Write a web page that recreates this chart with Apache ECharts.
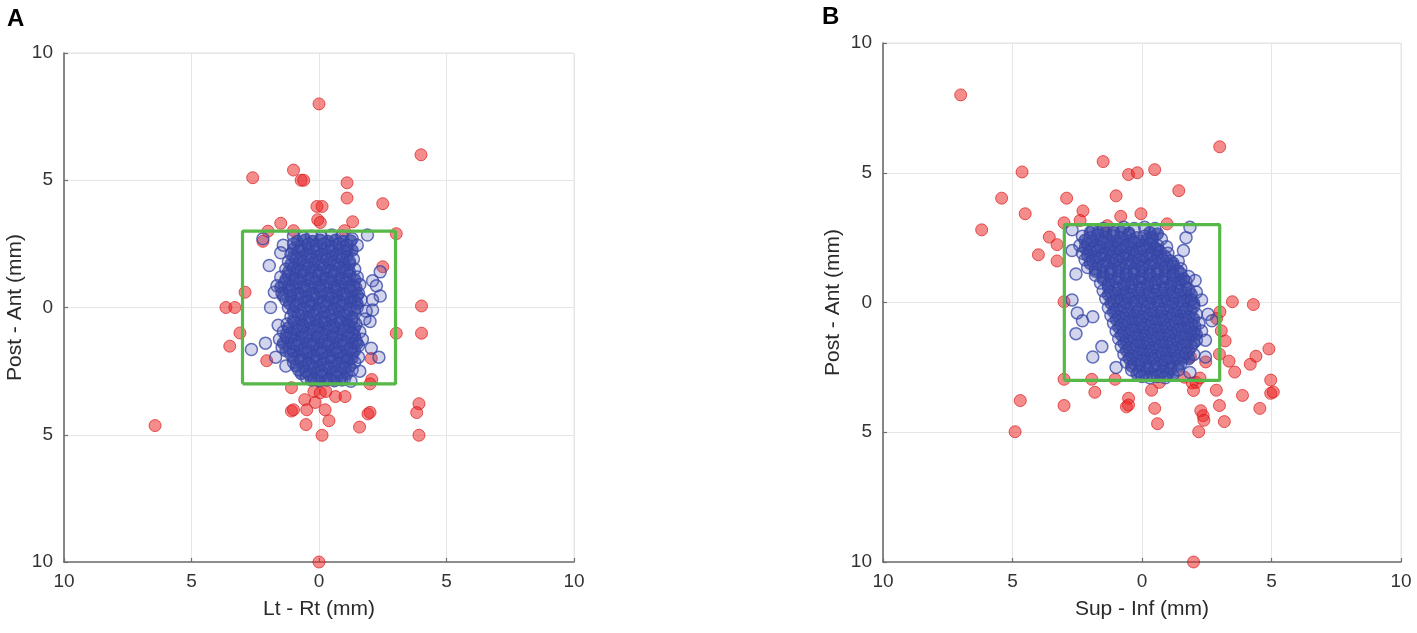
<!DOCTYPE html>
<html>
<head>
<meta charset="utf-8">
<title>Setup error scatter</title>
<script src="https://cdn.jsdelivr.net/npm/echarts@6/dist/echarts.min.js"></script>
<style>
  html, body { margin: 0; padding: 0; background: #fff; }
  #chart { width: 1417px; height: 633px; }
</style>
</head>
<body>
<div id="chart"></div>
<script>
// panel titles / axis names
const panelLetters = ['A', 'B'];
const xNames = ['Lt - Rt (mm)', 'Sup - Inf (mm)'];
const yName = 'Post - Ant (mm)';

// 3 mm tolerance box
const boxCorners = [[-3, -3], [-3, 3], [3, 3], [3, -3], [-3, -3]];

// panel A, points outside the box
const redA = [
  [0, 8], [4.0, 6.0], [-2.6, 5.1], [-1.0, 5.4], [-0.7, 5.0], [-0.6, 5.0], [1.1, 4.9], [1.1, 4.3],
  [2.5, 4.08], [-0.08, 3.97], [0.12, 3.97], [-0.05, 3.45], [0.05, 3.34], [1.32, 3.37], [-1.5, 3.31],
  [-2.0, 3.0], [-1.0, 3.02], [1.0, 3.02], [3.03, 2.9], [-2.2, 2.6], [2.5, 1.6], [-2.9, 0.6],
  [-3.65, 0.0], [-3.3, 0.0], [4.02, 0.06], [-3.1, -1.0], [3.03, -1.01], [4.02, -1.01], [-3.5, -1.52],
  [-2.05, -2.09], [2.05, -2.0], [2.07, -2.83], [2.0, -3.0], [-1.08, -3.15], [-0.2, -3.3], [0.05, -3.35],
  [0.27, -3.3], [0.65, -3.5], [1.02, -3.5], [-0.56, -3.62], [-0.15, -3.73], [-1.08, -4.07], [-1.0, -4.02],
  [-0.48, -4.02], [0.24, -4.02], [1.92, -4.18], [2.0, -4.12], [3.92, -3.78], [3.83, -4.13], [-6.43, -4.64],
  [-0.51, -4.6], [0.39, -4.45], [1.59, -4.7], [0.12, -5.02], [3.92, -5.02], [0, -10]
];

// panel A, points inside the box (scattered rim)
const blueA = [
  [-2.2, 2.7], [-1.0, 2.8], [-0.6, 2.75], [-0.3, 2.8], [0.1, 2.75], [0.5, 2.85], [0.9, 2.8], [1.3, 2.7], [1.9, 2.85],
  [-1.4, 2.45], [-1.0, 2.5], [-0.7, 2.4], [-0.4, 2.5], [-0.1, 2.45], [0.2, 2.5], [0.5, 2.4], [0.8, 2.5], [1.1, 2.45], [1.5, 2.45],
  [-1.5, 2.15], [-1.1, 2.1], [-0.8, 2.2], [-0.5, 2.1], [-0.2, 2.2], [0.1, 2.1], [0.4, 2.2], [0.7, 2.1], [1.0, 2.2], [1.35, 1.9],
  [-1.95, 1.65], [-1.2, 1.8], [-0.9, 1.9], [-0.6, 1.8], [-0.3, 1.9], [0.0, 1.8], [0.3, 1.9], [0.6, 1.8], [0.9, 1.9], [1.2, 1.8],
  [-1.3, 1.5], [-1.0, 1.55], [-0.7, 1.45], [-0.4, 1.55], [-0.1, 1.45], [0.2, 1.55], [0.5, 1.45], [0.8, 1.55], [1.1, 1.45], [1.4, 1.5], [2.4, 1.4],
  [-1.5, 1.2], [-1.2, 1.25], [-0.9, 1.15], [-0.6, 1.25], [-0.3, 1.15], [0.0, 1.25], [0.3, 1.15], [0.6, 1.25], [0.9, 1.15], [1.2, 1.25], [1.5, 1.2], [2.1, 1.05],
  [-1.65, 0.85], [-1.35, 0.95], [-1.05, 0.85], [-0.75, 0.95], [-0.45, 0.85], [-0.15, 0.95], [0.15, 0.85], [0.45, 0.95], [0.75, 0.85], [1.05, 0.95], [1.35, 0.85], [1.6, 0.9], [2.25, 0.85],
  [-1.75, 0.6], [-1.45, 0.55], [-1.15, 0.65], [-0.85, 0.55], [-0.55, 0.65], [-0.25, 0.55], [0.05, 0.65], [0.35, 0.55], [0.65, 0.65], [0.95, 0.55], [1.25, 0.65], [1.55, 0.55], [2.4, 0.45],
  [-1.3, 0.3], [-1.0, 0.25], [-0.7, 0.35], [-0.4, 0.25], [-0.1, 0.35], [0.2, 0.25], [0.5, 0.35], [0.8, 0.25], [1.1, 0.35], [1.4, 0.25], [1.65, 0.3], [2.1, 0.3],
  [-1.9, 0.0], [-1.2, 0.0], [-0.9, 0.05], [-0.6, -0.05], [-0.3, 0.05], [0.0, -0.05], [0.3, 0.05], [0.6, -0.05], [0.9, 0.05], [1.2, -0.05], [1.5, 0.0], [2.1, -0.1], [1.85, -0.15],
  [-1.1, -0.35], [-0.8, -0.3], [-0.5, -0.4], [-0.2, -0.3], [0.1, -0.4], [0.4, -0.3], [0.7, -0.4], [1.0, -0.3], [1.3, -0.4], [1.8, -0.45],
  [-1.6, -0.7], [-1.25, -0.65], [-0.95, -0.6], [-0.65, -0.7], [-0.35, -0.6], [-0.05, -0.7], [0.25, -0.6], [0.55, -0.7], [0.85, -0.6], [1.15, -0.7], [1.45, -0.65], [2.0, -0.55],
  [-1.4, -0.95], [-1.1, -1.0], [-0.8, -0.9], [-0.5, -1.0], [-0.2, -0.9], [0.1, -1.0], [0.4, -0.9], [0.7, -1.0], [1.0, -0.9], [1.3, -1.0], [1.6, -0.95],
  [-1.55, -1.25], [-1.25, -1.2], [-0.95, -1.3], [-0.65, -1.2], [-0.35, -1.3], [-0.05, -1.2], [0.25, -1.3], [0.55, -1.2], [0.85, -1.3], [1.15, -1.2], [1.45, -1.3], [1.7, -1.25],
  [-2.1, -1.4], [-2.65, -1.65], [-1.45, -1.55], [-1.15, -1.6], [-0.85, -1.5], [-0.55, -1.6], [-0.25, -1.5], [0.05, -1.6], [0.35, -1.5], [0.65, -1.6], [0.95, -1.5], [1.25, -1.6], [1.55, -1.5], [2.05, -1.6],
  [-1.7, -1.95], [-1.1, -1.85], [-0.8, -1.9], [-0.5, -1.8], [-0.2, -1.9], [0.1, -1.8], [0.4, -1.9], [0.7, -1.8], [1.0, -1.9], [1.3, -1.8], [1.55, -1.95], [2.35, -1.95],
  [-1.3, -2.3], [-1.0, -2.15], [-0.7, -2.1], [-0.4, -2.2], [-0.1, -2.1], [0.2, -2.2], [0.5, -2.1], [0.8, -2.2], [1.1, -2.1], [1.4, -2.15],
  [-0.8, -2.45], [-0.5, -2.5], [-0.2, -2.4], [0.1, -2.5], [0.4, -2.4], [0.7, -2.5], [1.0, -2.4], [1.3, -2.45], [1.6, -2.5],
  [-0.5, -2.75], [-0.2, -2.8], [0.1, -2.7], [0.4, -2.8], [0.7, -2.75], [1.0, -2.8], [1.25, -2.9]
];

// panel A, dense core (heavily overlapping points)
const blueCoreA = [
  [-0.85, 2.6], [-0.55, 2.65], [-0.25, 2.6], [0.05, 2.65], [0.35, 2.6], [0.65, 2.65], [0.95, 2.6], [1.25, 2.62],
  [-1.0, 2.3], [-0.7, 2.28], [-0.4, 2.32], [-0.1, 2.3], [0.2, 2.28], [0.5, 2.32], [0.8, 2.3], [1.1, 2.3], [1.3, 2.25],
  [-1.0, 2.0], [-0.7, 1.98], [-0.4, 2.02], [-0.1, 2.0], [0.2, 1.98], [0.5, 2.02], [0.8, 2.0], [1.1, 2.0],
  [-1.1, 1.7], [-0.8, 1.68], [-0.5, 1.72], [-0.2, 1.7], [0.1, 1.68], [0.4, 1.72], [0.7, 1.7], [1.0, 1.68], [1.2, 1.72],
  [-1.2, 1.4], [-0.9, 1.38], [-0.6, 1.42], [-0.3, 1.4], [0.0, 1.38], [0.3, 1.42], [0.6, 1.4], [0.9, 1.38], [1.2, 1.4],
  [-1.3, 1.1], [-1.0, 1.08], [-0.7, 1.12], [-0.4, 1.1], [-0.1, 1.08], [0.2, 1.12], [0.5, 1.1], [0.8, 1.08], [1.1, 1.12], [1.4, 1.1],
  [-1.5, 0.8], [-1.2, 0.78], [-0.9, 0.82], [-0.6, 0.8], [-0.3, 0.78], [0.0, 0.82], [0.3, 0.8], [0.6, 0.78], [0.9, 0.82], [1.2, 0.8], [1.45, 0.78],
  [-1.4, 0.45], [-1.1, 0.48], [-0.8, 0.52], [-0.5, 0.45], [-0.2, 0.48], [0.1, 0.52], [0.4, 0.45], [0.7, 0.48], [1.0, 0.52], [1.3, 0.45], [1.5, 0.48],
  [-1.15, 0.15], [-0.85, 0.18], [-0.55, 0.22], [-0.25, 0.15], [0.05, 0.18], [0.35, 0.22], [0.65, 0.15], [0.95, 0.18], [1.25, 0.22], [1.5, 0.15],
  [-1.0, -0.15], [-0.7, -0.18], [-0.4, -0.12], [-0.1, -0.15], [0.2, -0.18], [0.5, -0.12], [0.8, -0.15], [1.1, -0.18], [1.4, -0.12],
  [-1.0, -0.5], [-0.7, -0.52], [-0.4, -0.48], [-0.1, -0.5], [0.2, -0.52], [0.5, -0.48], [0.8, -0.5], [1.1, -0.52], [1.3, -0.48],
  [-1.2, -0.8], [-0.9, -0.82], [-0.6, -0.78], [-0.3, -0.8], [0.0, -0.82], [0.3, -0.78], [0.6, -0.8], [0.9, -0.82], [1.2, -0.78], [1.4, -0.8],
  [-1.3, -1.1], [-1.0, -1.12], [-0.7, -1.08], [-0.4, -1.1], [-0.1, -1.12], [0.2, -1.08], [0.5, -1.1], [0.8, -1.12], [1.1, -1.08], [1.4, -1.1],
  [-1.4, -1.4], [-1.1, -1.42], [-0.8, -1.38], [-0.5, -1.4], [-0.2, -1.42], [0.1, -1.38], [0.4, -1.4], [0.7, -1.42], [1.0, -1.38], [1.3, -1.4], [1.5, -1.42],
  [-1.3, -1.7], [-1.0, -1.72], [-0.7, -1.68], [-0.4, -1.7], [-0.1, -1.72], [0.2, -1.68], [0.5, -1.7], [0.8, -1.72], [1.1, -1.68], [1.4, -1.7],
  [-1.0, -2.0], [-0.7, -2.02], [-0.4, -1.98], [-0.1, -2.0], [0.2, -2.02], [0.5, -1.98], [0.8, -2.0], [1.1, -2.02], [1.3, -1.98],
  [-0.9, -2.3], [-0.6, -2.32], [-0.3, -2.28], [0.0, -2.3], [0.3, -2.32], [0.6, -2.28], [0.9, -2.3], [1.2, -2.32],
  [-0.7, -2.6], [-0.4, -2.62], [-0.1, -2.58], [0.2, -2.6], [0.5, -2.62], [0.8, -2.58], [1.1, -2.6],
  [-0.3, -2.85], [0.0, -2.88], [0.3, -2.85], [0.6, -2.88], [0.9, -2.85]
];

// panel B, points outside the box
const redB = [
  [-7.0, 8.0], [3.0, 6.0], [-1.5, 5.43], [-4.63, 5.03], [-0.52, 4.93], [-0.18, 5.0], [0.49, 5.12],
  [-5.42, 4.02], [-2.91, 4.02], [-1.0, 4.11], [1.42, 4.31], [-4.51, 3.42], [-2.28, 3.53], [-0.82, 3.32],
  [-0.04, 3.42], [-6.19, 2.8], [-3.01, 3.07], [-2.39, 3.16], [-1.34, 2.96], [0.97, 3.03], [-3.58, 2.52],
  [-3.28, 2.23], [-4.0, 1.84], [-3.28, 1.6], [-3.01, 0.03], [3.49, 0.03], [4.3, -0.08], [3.01, -0.36],
  [2.88, -0.62], [3.06, -1.09], [3.21, -1.48], [2.99, -1.99], [2.46, -2.29], [3.36, -2.26], [3.58, -2.68],
  [4.18, -2.38], [4.4, -2.07], [4.9, -1.79], [1.87, -2.1], [1.64, -2.88], [1.94, -3.1], [2.09, -3.08],
  [2.24, -2.91], [0.67, -3.08], [0.37, -3.38], [-1.04, -2.96], [-1.94, -2.96], [-3.01, -2.96], [-1.82, -3.46],
  [1.99, -3.39], [2.87, -3.38], [3.88, -3.58], [4.97, -2.99], [4.97, -3.5], [5.07, -3.45], [-0.52, -3.69],
  [-0.6, -4.02], [-0.52, -3.95], [-4.7, -3.78], [-3.01, -3.97], [0.49, -4.08], [2.99, -3.97], [4.55, -4.08],
  [2.27, -4.17], [2.36, -4.36], [2.39, -4.54], [3.18, -4.59], [0.6, -4.67], [-4.9, -4.98], [2.19, -4.98], [1.99, -10]
];

// panel B, points inside the box (scattered rim)
const blueB = [
  [-2.7, 2.8], [-1.9, 2.8], [-1.5, 2.85], [-0.7, 2.9], [-0.3, 2.85], [0.1, 2.9], [0.5, 2.85], [1.85, 2.9],
  [-2.3, 2.55], [-2.0, 2.5], [-1.7, 2.6], [-1.4, 2.5], [-1.1, 2.55], [-0.8, 2.5], [-0.5, 2.6], [-0.2, 2.5], [0.1, 2.55], [0.4, 2.5], [0.75, 2.45], [1.7, 2.5],
  [-2.4, 2.2], [-2.1, 2.25], [-1.8, 2.2], [-1.5, 2.3], [-1.2, 2.2], [-0.9, 2.25], [-0.6, 2.2], [-0.3, 2.3], [0.0, 2.2], [0.3, 2.25], [0.6, 2.2], [0.95, 2.15], [1.6, 2.0],
  [-2.7, 2.0], [-2.3, 1.9], [-2.0, 1.95], [-1.7, 2.0], [-1.4, 1.9], [-1.1, 1.95], [-0.8, 2.0], [-0.5, 1.9], [-0.2, 1.95], [0.1, 2.0], [0.4, 1.9], [0.7, 1.95], [1.0, 1.9],
  [-2.2, 1.65], [-1.9, 1.6], [-1.6, 1.7], [-1.3, 1.6], [-1.0, 1.65], [-0.7, 1.7], [-0.4, 1.6], [-0.1, 1.65], [0.2, 1.7], [0.5, 1.6], [0.8, 1.65], [1.1, 1.6], [1.4, 1.6],
  [-2.1, 1.35], [-1.8, 1.3], [-1.5, 1.4], [-1.2, 1.3], [-0.9, 1.35], [-0.6, 1.4], [-0.3, 1.3], [0.0, 1.35], [0.3, 1.4], [0.6, 1.3], [0.9, 1.35], [1.2, 1.4], [1.5, 1.3],
  [-2.55, 1.1], [-1.8, 1.05], [-1.5, 1.0], [-1.2, 1.1], [-0.9, 1.0], [-0.6, 1.05], [-0.3, 1.1], [0.0, 1.0], [0.3, 1.05], [0.6, 1.1], [0.9, 1.0], [1.2, 1.05], [1.5, 1.1], [1.8, 1.0],
  [-1.6, 0.75], [-1.3, 0.7], [-1.0, 0.8], [-0.7, 0.7], [-0.4, 0.75], [-0.1, 0.8], [0.2, 0.7], [0.5, 0.75], [0.8, 0.8], [1.1, 0.7], [1.4, 0.75], [1.7, 0.8], [2.05, 0.85],
  [-1.5, 0.45], [-1.2, 0.4], [-0.9, 0.5], [-0.6, 0.4], [-0.3, 0.45], [0.0, 0.5], [0.3, 0.4], [0.6, 0.45], [0.9, 0.5], [1.2, 0.4], [1.5, 0.45], [1.8, 0.5], [2.1, 0.4],
  [-2.7, 0.1], [-1.4, 0.15], [-1.1, 0.05], [-0.8, 0.1], [-0.5, 0.15], [-0.2, 0.05], [0.1, 0.1], [0.4, 0.15], [0.7, 0.05], [1.0, 0.1], [1.3, 0.15], [1.6, 0.05], [1.9, 0.1], [2.3, 0.1],
  [-1.3, -0.2], [-1.0, -0.25], [-0.7, -0.15], [-0.4, -0.2], [-0.1, -0.25], [0.2, -0.15], [0.5, -0.2], [0.8, -0.25], [1.1, -0.15], [1.4, -0.2], [1.7, -0.25], [2.0, -0.15],
  [-2.5, -0.4], [-2.3, -0.7], [-1.9, -0.55], [-1.2, -0.5], [-0.9, -0.55], [-0.6, -0.45], [-0.3, -0.5], [0.0, -0.55], [0.3, -0.45], [0.6, -0.5], [0.9, -0.55], [1.2, -0.45], [1.5, -0.5], [1.8, -0.55], [2.1, -0.45], [2.55, -0.45],
  [-1.1, -0.8], [-0.8, -0.85], [-0.5, -0.75], [-0.2, -0.8], [0.1, -0.85], [0.4, -0.75], [0.7, -0.8], [1.0, -0.85], [1.3, -0.75], [1.6, -0.8], [1.9, -0.85], [2.2, -0.8], [2.7, -0.7],
  [-2.55, -1.2], [-1.0, -1.1], [-0.7, -1.15], [-0.4, -1.05], [-0.1, -1.1], [0.2, -1.15], [0.5, -1.05], [0.8, -1.1], [1.1, -1.15], [1.4, -1.05], [1.7, -1.1], [2.0, -1.15], [2.3, -1.1],
  [-0.9, -1.4], [-0.6, -1.45], [-0.3, -1.35], [0.0, -1.4], [0.3, -1.45], [0.6, -1.35], [0.9, -1.4], [1.2, -1.45], [1.5, -1.35], [1.8, -1.4], [2.1, -1.45], [2.45, -1.45],
  [-1.55, -1.7], [-0.8, -1.7], [-0.5, -1.75], [-0.2, -1.65], [0.1, -1.7], [0.4, -1.75], [0.7, -1.65], [1.0, -1.7], [1.3, -1.75], [1.6, -1.65], [1.9, -1.7],
  [-1.9, -2.1], [-0.7, -2.0], [-0.4, -2.05], [-0.1, -1.95], [0.2, -2.0], [0.5, -2.05], [0.8, -1.95], [1.1, -2.0], [1.4, -2.05], [1.7, -1.95], [2.0, -2.0], [2.45, -2.1],
  [-0.6, -2.3], [-0.3, -2.35], [0.0, -2.25], [0.3, -2.3], [0.6, -2.35], [0.9, -2.25], [1.2, -2.3], [1.5, -2.35],
  [-1.0, -2.5], [-0.4, -2.6], [-0.1, -2.65], [0.2, -2.55], [0.5, -2.6], [0.8, -2.65], [1.1, -2.55], [1.4, -2.6], [1.85, -2.7],
  [0.0, -2.85], [0.3, -2.9], [0.6, -2.85], [0.9, -2.9]
];

// panel B, dense core along the diagonal
const blueCoreB = [
  [-2.0, 2.7], [-1.7, 2.72], [-1.4, 2.68], [-1.1, 2.7], [-0.8, 2.72], [-0.5, 2.68], [0.3, 2.7], [0.6, 2.65],
  [-2.2, 2.4], [-1.9, 2.38], [-1.6, 2.42], [-1.3, 2.4], [-1.0, 2.38], [-0.7, 2.42], [-0.4, 2.4], [-0.1, 2.38], [0.2, 2.42], [0.4, 2.4],
  [-2.2, 2.1], [-1.9, 2.08], [-1.6, 2.12], [-1.3, 2.1], [-1.0, 2.08], [-0.7, 2.12], [-0.4, 2.1], [-0.1, 2.08], [0.2, 2.12], [0.5, 2.1], [0.6, 2.05],
  [-2.1, 1.8], [-1.8, 1.78], [-1.5, 1.82], [-1.2, 1.8], [-0.9, 1.78], [-0.6, 1.82], [-0.3, 1.8], [0.0, 1.78], [0.3, 1.82], [0.6, 1.8], [0.9, 1.78],
  [-2.0, 1.5], [-1.7, 1.48], [-1.4, 1.52], [-1.1, 1.5], [-0.8, 1.48], [-0.5, 1.52], [-0.2, 1.5], [0.1, 1.48], [0.4, 1.52], [0.7, 1.5], [1.0, 1.48], [1.2, 1.52],
  [-1.8, 1.2], [-1.5, 1.18], [-1.2, 1.22], [-0.9, 1.2], [-0.6, 1.18], [-0.3, 1.22], [0.0, 1.2], [0.3, 1.18], [0.6, 1.22], [0.9, 1.2], [1.2, 1.18], [1.4, 1.22],
  [-1.5, 0.9], [-1.2, 0.88], [-0.9, 0.92], [-0.6, 0.9], [-0.3, 0.88], [0.0, 0.92], [0.3, 0.9], [0.6, 0.88], [0.9, 0.92], [1.2, 0.9], [1.5, 0.88], [1.6, 0.92],
  [-1.3, 0.6], [-1.0, 0.58], [-0.7, 0.62], [-0.4, 0.6], [-0.1, 0.58], [0.2, 0.62], [0.5, 0.6], [0.8, 0.58], [1.1, 0.62], [1.4, 0.6], [1.7, 0.58],
  [-1.3, 0.3], [-1.0, 0.28], [-0.7, 0.32], [-0.4, 0.3], [-0.1, 0.28], [0.2, 0.32], [0.5, 0.3], [0.8, 0.28], [1.1, 0.32], [1.4, 0.3], [1.7, 0.28], [1.9, 0.32],
  [-1.2, -0.02], [-0.9, 0.0], [-0.6, -0.02], [-0.3, 0.02], [0.0, 0.0], [0.3, -0.02], [0.6, 0.02], [0.9, 0.0], [1.2, -0.02], [1.5, 0.02], [1.8, 0.0], [2.0, -0.02],
  [-1.1, -0.35], [-0.8, -0.33], [-0.5, -0.37], [-0.2, -0.35], [0.1, -0.33], [0.4, -0.37], [0.7, -0.35], [1.0, -0.33], [1.3, -0.37], [1.6, -0.35], [1.9, -0.33],
  [-1.0, -0.65], [-0.7, -0.63], [-0.4, -0.67], [-0.1, -0.65], [0.2, -0.63], [0.5, -0.67], [0.8, -0.65], [1.1, -0.63], [1.4, -0.67], [1.7, -0.65], [2.0, -0.63],
  [-0.9, -0.95], [-0.6, -0.93], [-0.3, -0.97], [0.0, -0.95], [0.3, -0.93], [0.6, -0.97], [0.9, -0.95], [1.2, -0.93], [1.5, -0.97], [1.8, -0.95], [2.05, -0.93],
  [-0.8, -1.25], [-0.5, -1.23], [-0.2, -1.27], [0.1, -1.25], [0.4, -1.23], [0.7, -1.27], [1.0, -1.25], [1.3, -1.23], [1.6, -1.27], [1.9, -1.25], [2.1, -1.23],
  [-0.7, -1.55], [-0.4, -1.53], [-0.1, -1.57], [0.2, -1.55], [0.5, -1.53], [0.8, -1.57], [1.1, -1.55], [1.4, -1.53], [1.7, -1.57], [2.0, -1.55],
  [-0.6, -1.85], [-0.3, -1.83], [0.0, -1.87], [0.3, -1.85], [0.6, -1.83], [0.9, -1.87], [1.2, -1.85], [1.5, -1.83], [1.8, -1.87],
  [-0.5, -2.15], [-0.2, -2.13], [0.1, -2.17], [0.4, -2.15], [0.7, -2.13], [1.0, -2.17], [1.3, -2.15], [1.6, -2.13], [1.8, -2.17],
  [-0.4, -2.45], [-0.1, -2.43], [0.2, -2.47], [0.5, -2.45], [0.8, -2.43], [1.1, -2.47], [1.4, -2.45],
  [-0.2, -2.75], [0.1, -2.73], [0.4, -2.77], [0.7, -2.75], [1.0, -2.73], [1.2, -2.77]
];

const FONT = 'Liberation Sans, Arial, sans-serif';
const AXIS_GRAY = '#6e6e6e';

function makeAxis(idx, name, isX, gap) {
  return {
    type: 'value',
    gridIndex: idx,
    min: -10,
    max: 10,
    interval: 5,
    name: name,
    nameLocation: 'middle',
    nameGap: gap,
    nameTextStyle: { fontFamily: FONT, fontSize: 21, color: '#2a2a2a' },
    axisLine: { show: true, onZero: false, lineStyle: { color: AXIS_GRAY, width: 1.6 } },
    axisTick: { show: true, inside: true, length: 4, lineStyle: { color: AXIS_GRAY, width: 1.2 } },
    axisLabel: {
      fontFamily: FONT, fontSize: 19, color: '#333',
      margin: isX ? 10 : 11,
      formatter: v => String(Math.abs(v))
    },
    splitLine: { show: true, lineStyle: { color: '#e6e6e6', width: 1 } }
  };
}

function panelSeries(idx, red, blue, core) {
  return [
    {
      type: 'scatter', xAxisIndex: idx, yAxisIndex: idx, data: red,
      symbolSize: 12, clip: false,
      itemStyle: { color: 'rgba(236,36,36,0.66)', borderColor: 'rgba(215,20,20,0.85)', borderWidth: 1 }
    },
    {
      type: 'scatter', xAxisIndex: idx, yAxisIndex: idx, data: core,
      symbolSize: 12, clip: false,
      itemStyle: { color: 'rgba(58,76,166,0.94)', borderColor: 'rgba(55,72,163,0.98)', borderWidth: 1.2 }
    },
    {
      type: 'scatter', xAxisIndex: idx, yAxisIndex: idx, data: blue,
      symbolSize: 12, clip: false,
      itemStyle: { color: 'rgba(70,84,176,0.3)', borderColor: 'rgba(52,68,165,0.95)', borderWidth: 1.5 }
    },
    {
      type: 'line', xAxisIndex: idx, yAxisIndex: idx, data: boxCorners,
      symbol: 'none', silent: true,
      lineStyle: { color: '#56b847', width: 3.2 }
    }
  ];
}

const chart = echarts.init(document.getElementById('chart'), null, { renderer: 'canvas' });

chart.setOption({
  animation: false,
  backgroundColor: '#fff',
  title: [
    { text: panelLetters[0], left: 2, top: 2, textStyle: { fontFamily: FONT, fontWeight: 'bold', fontSize: 24, color: '#000' } },
    { text: panelLetters[1], left: 817, top: 0, textStyle: { fontFamily: FONT, fontWeight: 'bold', fontSize: 24, color: '#000' } }
  ],
  grid: [
    { left: 64, top: 53, width: 510, height: 509, show: true, borderColor: '#e3e3e3', borderWidth: 1 },
    { left: 883, top: 43, width: 518, height: 519, show: true, borderColor: '#e3e3e3', borderWidth: 1 }
  ],
  xAxis: [
    makeAxis(0, xNames[0], true, 37),
    makeAxis(1, xNames[1], true, 37)
  ],
  yAxis: [
    makeAxis(0, yName, false, 38),
    makeAxis(1, yName, false, 39)
  ],
  series: panelSeries(0, redA, blueA, blueCoreA).concat(panelSeries(1, redB, blueB, blueCoreB))
});

window.addEventListener('resize', () => chart.resize());
</script>
</body>
</html>
